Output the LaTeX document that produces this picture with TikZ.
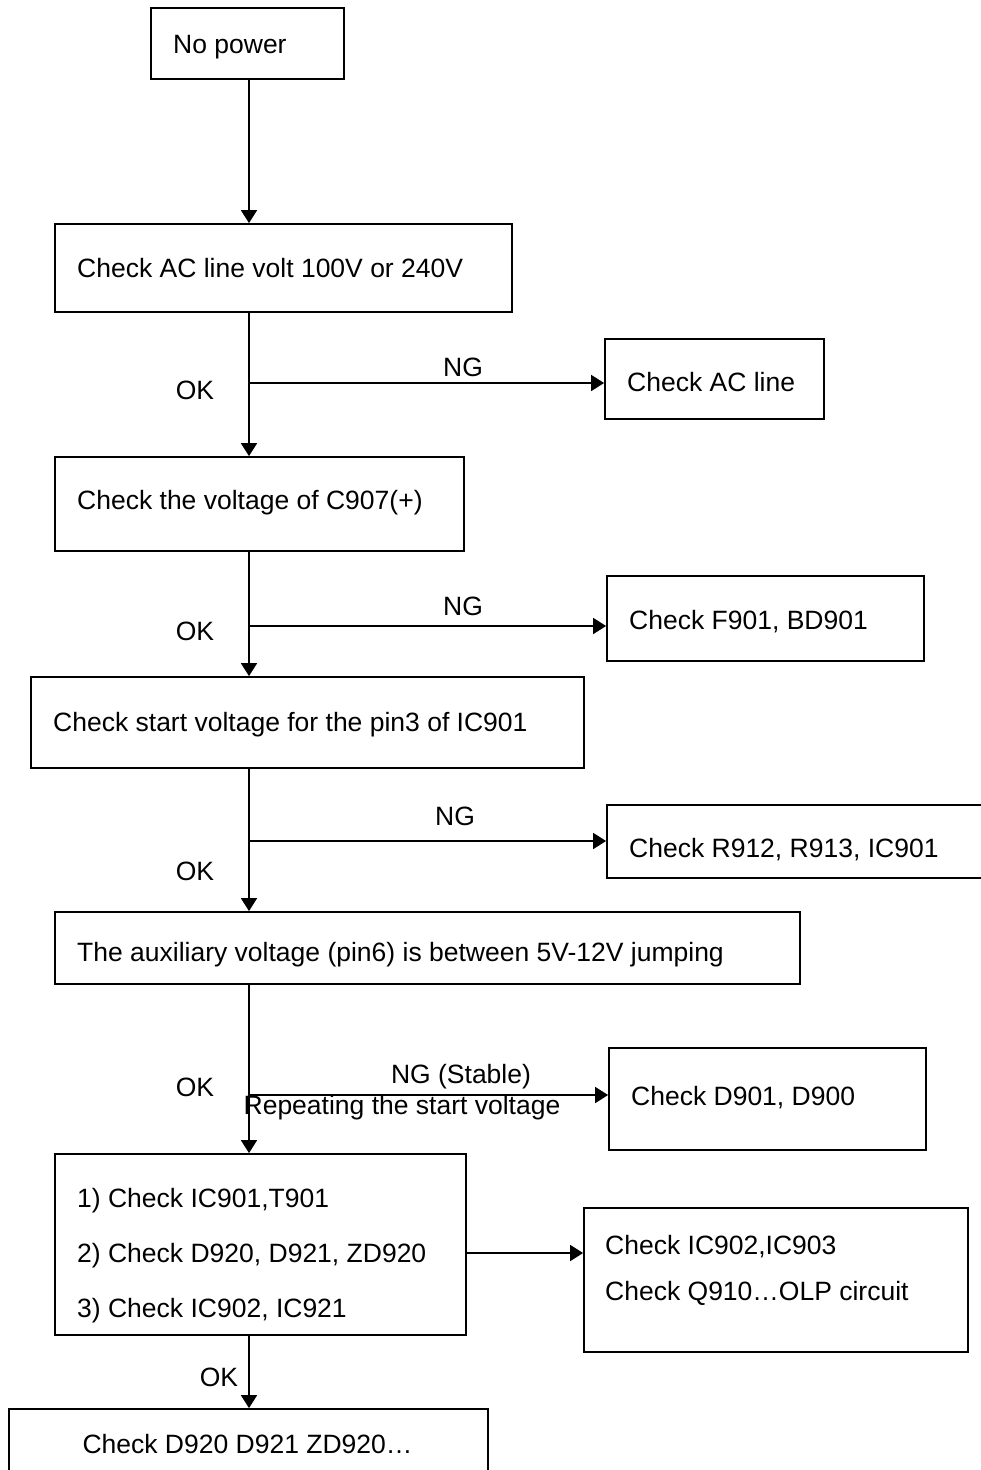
\documentclass[tikz,border=0pt]{standalone}
\usepackage{fontspec}
\setmainfont{Liberation Sans}
\usetikzlibrary{arrows.meta}
\tikzset{
  box/.style={draw, line width=1.8pt, inner sep=0pt, rectangle},
  txt/.style={inner sep=0pt, anchor=base west, font=\fontsize{26.5}{30}\selectfont},
  lbl/.style={inner sep=0pt, anchor=base, font=\fontsize{26.5}{30}\selectfont},
  arr/.style={line width=1.8pt, -{Triangle[length=13pt,width=16pt]}},
}
\begin{document}
\begin{tikzpicture}[x=1pt,y=-1pt]
\useasboundingbox (0,0) rectangle (981,1470);
\clip (0,0) rectangle (981,1470);
\fill[white] (0,0) rectangle (981,1470);
% boxes
\node[box, minimum width=193pt, minimum height=71pt] (b1) at (247.5,43.5) {};
\node[box, minimum width=457pt, minimum height=88pt] (b2) at (283.5,268) {};
\node[box, minimum width=219pt, minimum height=80pt] (b3) at (714.5,379) {};
\node[box, minimum width=409pt, minimum height=94pt] (b4) at (259.5,504) {};
\node[box, minimum width=317pt, minimum height=85pt] (b5) at (765.5,618.5) {};
\node[box, minimum width=553pt, minimum height=91pt] (b6) at (307.5,722.5) {};
\node[box, minimum width=393pt, minimum height=73pt] (b7) at (803.5,841.5) {};
\node[box, minimum width=745pt, minimum height=72pt] (b8) at (427.5,948) {};
\node[box, minimum width=317pt, minimum height=102pt] (b9) at (767.5,1099) {};
\node[box, minimum width=411pt, minimum height=181pt] (b10) at (260.5,1244.5) {};
\node[box, minimum width=384pt, minimum height=144pt] (b11) at (776,1280) {};
\node[box, minimum width=479pt, minimum height=81pt] (b12) at (248.5,1449.5) {};
% box texts
\node[txt] (t1) at (173,53) {No power};
\node[txt] (t2) at (77,277.5) {Check AC line volt 100V or 240V};
\node[txt] (t3) at (627,391.5) {Check AC line};
\node[txt] (t4) at (77,509.5) {Check the voltage of C907(+)};
\node[txt] (t5) at (629,629.5) {Check F901, BD901};
\node[txt] (t6) at (53,731.5) {Check start voltage for the pin3 of IC901};
\node[txt] (t7) at (629,857) {Check R912, R913, IC901};
\node[txt] (t8) at (77,961.5) {The auxiliary voltage (pin6) is between 5V-12V jumping};
\node[txt] (t9) at (631,1105.5) {Check D901, D900};
\node[txt] (t10a) at (77,1207.5) {1) Check IC901,T901};
\node[txt] (t10b) at (77,1262.5) {2) Check D920, D921, ZD920};
\node[txt] (t10c) at (77,1317.5) {3) Check IC902, IC921};
\node[txt] (t11a) at (605,1254) {Check IC902,IC903};
\node[txt] (t11b) at (605,1300) {Check Q910…OLP circuit};
\node[lbl] (t12) at (247.5,1453) {Check D920 D921 ZD920…};
% connectors
\coordinate (trunk) at (249,0);
\coordinate (j1) at (249,383);
\coordinate (j2) at (249,626);
\coordinate (j3) at (249,841);
\coordinate (j4) at (249,1095);
\coordinate (j5) at (466,1253);
\draw[arr] (b1.south -| trunk) -- (b2.north -| trunk);
\draw[arr] (b2.south -| trunk) -- (b4.north -| trunk);
\draw[arr] (b4.south -| trunk) -- (b6.north -| trunk);
\draw[arr] (b6.south -| trunk) -- (b8.north -| trunk);
\draw[arr] (b8.south -| trunk) -- (b10.north -| trunk);
\draw[arr] (b10.south -| trunk) -- (b12.north -| trunk);
\draw[arr] (j1) -- (j1 -| b3.west);
\draw[arr] (j2) -- (j2 -| b5.west);
\draw[arr] (j3) -- (j3 -| b7.west);
\draw[arr] (j4) -- (j4 -| b9.west);
\draw[arr] (j5) -- (j5 -| b11.west);
% labels
\node[lbl] (ng1) at (463,376.5) {NG};
\node[lbl] (ok1) at (195,399.5) {OK};
\node[lbl] (ng2) at (463,615.5) {NG};
\node[lbl] (ok2) at (195,640.5) {OK};
\node[lbl] (ng3) at (455,825.5) {NG};
\node[lbl] (ok3) at (195,880.5) {OK};
\node[lbl] (ng4) at (461,1083) {NG (Stable)};
\node[lbl] (rep) at (402,1114.5) {Repeating the start voltage};
\node[lbl] (ok4) at (195,1096.5) {OK};
\node[lbl] (ok5) at (219,1386.5) {OK};
\end{tikzpicture}
\end{document}
